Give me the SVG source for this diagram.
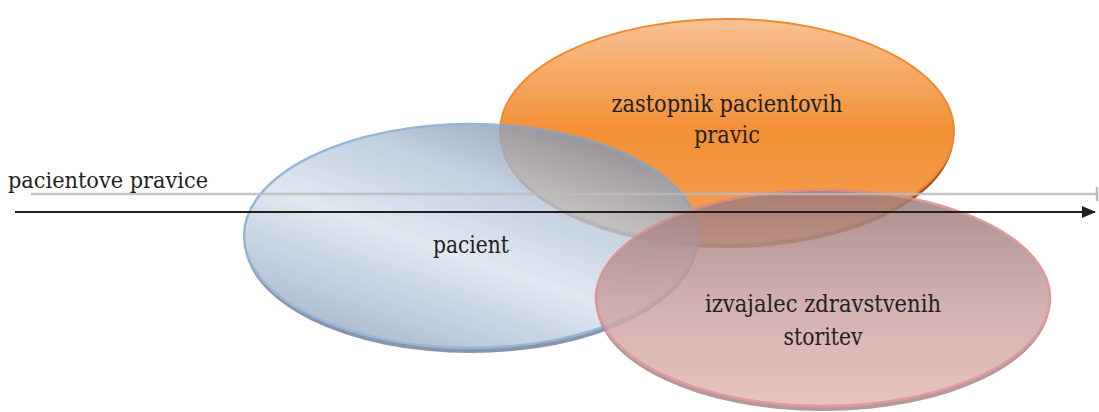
<svg xmlns="http://www.w3.org/2000/svg" width="1099" height="412" viewBox="0 0 1099 412">
<style>
.t{font-family:"DejaVu Serif","Liberation Serif",serif;fill:#231f20;text-anchor:middle;font-size:24px}
</style>
<defs>
<linearGradient id="gO" x1="0" y1="0" x2="0" y2="1">
<stop offset="0" stop-color="#f8c195"/>
<stop offset="0.5" stop-color="#f39035"/>
<stop offset="1" stop-color="#f4a05a"/>
</linearGradient>
<linearGradient id="gB" x1="0" y1="1" x2="0.7" y2="0">
<stop offset="0" stop-color="#8497b0"/>
<stop offset="0.25" stop-color="#aebfd3"/>
<stop offset="0.5" stop-color="#d9e3ef"/>
<stop offset="0.75" stop-color="#b8c7d9"/>
<stop offset="1" stop-color="#8293ab"/>
</linearGradient>
<linearGradient id="gP" x1="0" y1="0" x2="0" y2="1">
<stop offset="0" stop-color="#9c7a79"/>
<stop offset="0.5" stop-color="#c9a2a1"/>
<stop offset="1" stop-color="#e6b8b7"/>
</linearGradient>
<marker id="ah" markerWidth="14" markerHeight="12" refX="13" refY="6" orient="auto" markerUnits="userSpaceOnUse">
<path d="M0,0 L14,6 L0,12 Z" fill="#231f20"/>
</marker>
</defs>
<g id="node-zastopnik">
<ellipse cx="727" cy="135" rx="227" ry="113" fill="#a9531c"/>
<ellipse cx="727" cy="131" rx="227" ry="112" fill="url(#gO)" stroke="#ef8a2e" stroke-width="2"/>
<text class="t" x="727" y="112" textLength="231" lengthAdjust="spacingAndGlyphs">zastopnik pacientovih</text>
<text class="t" x="727" y="143" textLength="66" lengthAdjust="spacingAndGlyphs">pravic</text>
</g>
<g id="node-pacient" opacity="0.82">
<ellipse cx="471" cy="240" rx="227" ry="113" fill="#6f8098"/>
<ellipse cx="471" cy="236" rx="227" ry="112" fill="url(#gB)" stroke="#7fa5d3" stroke-width="2.5"/>
</g>
<g id="node-izvajalec" opacity="0.85">
<ellipse cx="823" cy="302" rx="227" ry="109" fill="#a68887"/>
<ellipse cx="823" cy="298" rx="227" ry="108" fill="url(#gP)" stroke="#d98a8a" stroke-width="2.5"/>
</g>
<g id="connectors">
<line x1="31" y1="194" x2="1097" y2="194" stroke="#bdbdbd" stroke-width="2.5" opacity="0.85"/>
<line x1="1097" y1="187" x2="1097" y2="201" stroke="#bdbdbd" stroke-width="2.5"/>
<line x1="15" y1="212" x2="1095" y2="212" stroke="#231f20" stroke-width="2" marker-end="url(#ah)"/>
</g>
<g id="labels">
<text class="t" x="471" y="253" textLength="76" lengthAdjust="spacingAndGlyphs">pacient</text>
<text class="t" x="823" y="312" textLength="236" lengthAdjust="spacingAndGlyphs">izvajalec zdravstvenih</text>
<text class="t" x="823" y="345" textLength="79" lengthAdjust="spacingAndGlyphs">storitev</text>
<text class="t" x="8" y="188" style="text-anchor:start;font-size:22px" textLength="200" lengthAdjust="spacingAndGlyphs">pacientove pravice</text>
</g>
</svg>
